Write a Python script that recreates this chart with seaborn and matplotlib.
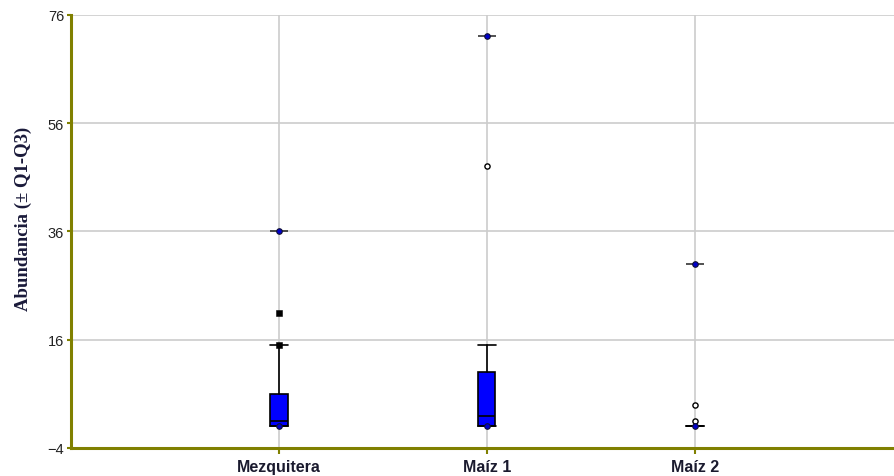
import matplotlib
matplotlib.use("Agg")
import matplotlib.pyplot as plt
import seaborn as sns
import pandas as pd
import numpy as np

# ---- data ----
categories = ["Mezquitera", "Maíz 1", "Maíz 2"]
q1 = [0, 0, 0]
median = [1, 2, 0]
q3 = [6, 10, 0]
whisker_low = [0, 0, 0]
whisker_high = [15, 15, 0]
maximum = [36, 72, 30]
minimum = [0, 0, 0]
square_outliers = {"Mezquitera": [15, 21], "Maíz 1": [], "Maíz 2": []}
circle_outliers = {"Mezquitera": [], "Maíz 1": [48], "Maíz 2": [4, 1]}
yticks = [-4, 16, 36, 56, 76]

sns.set_theme(style="white")
plt.rcParams["font.family"] = ["Liberation Sans", "DejaVu Sans"]

fig = plt.figure(figsize=(8.94, 4.77), dpi=100)
ax = fig.add_axes([71 / 894, 28 / 477, 1 - 71 / 894, (449 - 15.7) / 477])

pos = np.arange(len(categories))

# grid
for y in yticks[1:]:
    ax.axhline(y, color="#cccccc", lw=1.2, zorder=0)
for x in pos:
    ax.axvline(x, color="#cccccc", lw=1.2, zorder=0)

stats = []
for i, c in enumerate(categories):
    stats.append(dict(label=c, q1=q1[i], med=median[i], q3=q3[i],
                      whislo=whisker_low[i], whishi=whisker_high[i], fliers=[]))
ax.bxp(stats, positions=pos, widths=0.082, patch_artist=True, showfliers=False,
       boxprops=dict(facecolor="#0000ff", edgecolor="black", linewidth=1.2),
       medianprops=dict(color="black", linewidth=1.2),
       whiskerprops=dict(color="black", linewidth=1.2),
       capprops=dict(color="black", linewidth=1.2), capwidths=0.087)

# max caps
ax.hlines(maximum, pos - 0.043, pos + 0.043, color="#333333", lw=1.2, zorder=3)

# points
sq = pd.DataFrame([(categories.index(c), v) for c in categories for v in square_outliers[c]],
                  columns=["x", "y"])
ci = pd.DataFrame([(categories.index(c), v) for c in categories for v in circle_outliers[c]],
                  columns=["x", "y"])
ext = pd.DataFrame({"x": np.concatenate([pos, pos]),
                    "y": maximum + minimum})
sns.scatterplot(data=sq, x="x", y="y", marker="s", s=22, color="black",
                edgecolor="black", ax=ax, zorder=4)
sns.scatterplot(data=ci, x="x", y="y", marker="o", s=14, facecolor="white",
                edgecolor="black", linewidth=1.0, ax=ax, zorder=4)
sns.scatterplot(data=ext, x="x", y="y", marker="o", s=16, color="#0000cc",
                edgecolor="#111133", linewidth=0.8, ax=ax, zorder=5)

ax.set_xlim(-1.0, 2.957)
ax.set_ylim(-4, 76)
ax.set_yticks(yticks)
ax.set_xticks(pos)
ax.set_xticklabels(categories, fontsize=11.5, fontweight="bold", color="#1a1a2e")
ax.tick_params(axis="y", labelsize=10.5, labelcolor="#222222", length=3,
               width=1.5, color="#808000", left=True, pad=2)
ax.tick_params(axis="x", length=4, width=1.5, color="#808000", bottom=True, pad=4)
ax.set_xlabel("")
ax.set_ylabel("Abundancia (± Q1-Q3)", fontsize=13.5, fontweight="bold",
              family=["Liberation Serif", "DejaVu Serif"], color="#1a1a3a")
ax.yaxis.set_label_coords(-0.047, 0.532)

for s in ["top", "right"]:
    ax.spines[s].set_visible(False)
for s in ["left", "bottom"]:
    ax.spines[s].set_color("#808000")
    ax.spines[s].set_linewidth(2.2)
ax.set_facecolor("white")
fig.patch.set_facecolor("white")

fig.savefig("out.png", dpi=100)
